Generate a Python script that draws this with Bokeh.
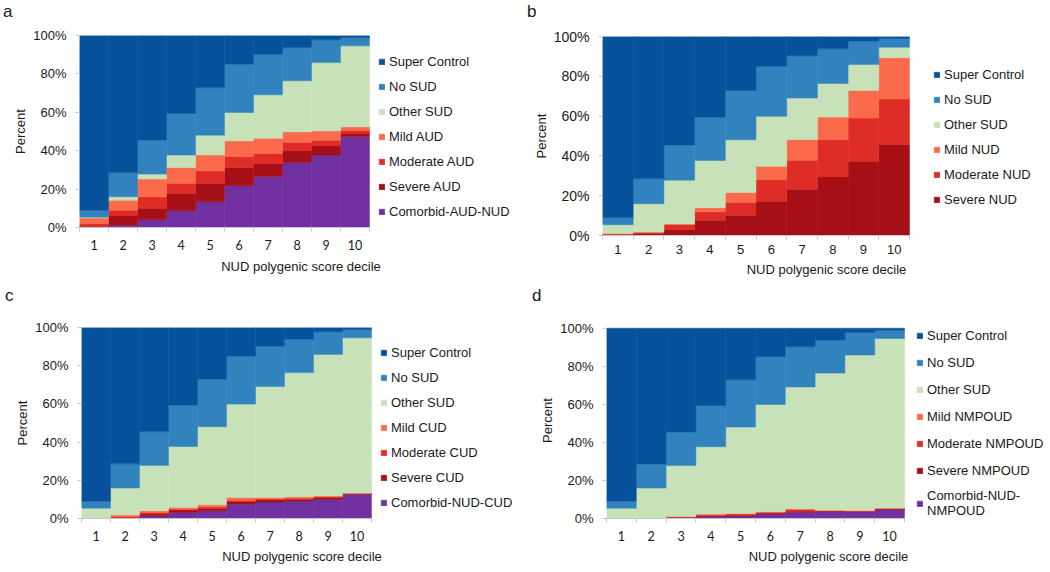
from bokeh.plotting import figure
from bokeh.layouts import row, column
from bokeh.models import Range1d, FixedTicker, Legend, LegendItem, ColumnDataSource, Div
from bokeh.embed import file_html
from bokeh.resources import INLINE

# ---------------- data ----------------
deciles = [1, 2, 3, 4, 5, 6, 7, 8, 9, 10]
x_tick_labels = ["1", "2", "3", "4", "5", "6", "7", "8", "9", "10"]
y_ticks = [0, 20, 40, 60, 80, 100]
y_tick_labels = ["0%", "20%", "40%", "60%", "80%", "100%"]

super_control = [91.0, 71.4, 54.5, 40.6, 27.1, 15.0, 9.7, 6.2, 2.2, 1.0]
no_sud = [3.6, 12.6, 17.7, 21.7, 24.8, 25.1, 21.2, 17.4, 11.9, 4.4]

# panel a (AUD)
other_a = [0.5, 1.8, 2.6, 6.4, 10.3, 14.8, 22.6, 26.6, 35.6, 42.2]
mild_a = [2.8, 5.2, 9.2, 8.2, 8.3, 8.1, 8.0, 5.4, 4.8, 1.7]
moderate_a = [1.4, 3.0, 6.0, 5.4, 6.6, 5.7, 5.2, 4.5, 3.0, 1.6]
severe_a = [0.7, 4.8, 6.0, 9.0, 9.5, 9.6, 6.7, 6.0, 4.7, 1.7]
comorbid_a = [0.0, 1.2, 4.0, 8.7, 13.4, 21.7, 26.6, 33.9, 37.8, 47.4]

# panel b (NUD)
other_b = [4.4, 14.2, 22.0, 23.7, 26.5, 25.1, 20.9, 16.9, 13.0, 5.3]
mild_b = [0.2, 0.3, 0.3, 2.1, 5.0, 6.7, 10.4, 11.3, 13.9, 20.7]
moderate_b = [0.3, 0.5, 2.5, 4.2, 6.4, 10.9, 14.7, 18.8, 21.7, 22.9]
severe_b = [0.5, 1.0, 3.0, 7.7, 10.2, 17.2, 23.1, 29.4, 37.3, 45.7]

# panel c (CUD)
other_c = [5.4, 14.2, 23.8, 31.9, 40.9, 48.9, 58.1, 65.1, 74.0, 81.3]
mild_c = [0.0, 0.8, 0.9, 0.9, 1.1, 1.4, 0.7, 0.7, 0.6, 0.2]
moderate_c = [0.0, 0.7, 0.8, 0.5, 0.9, 0.7, 0.5, 0.5, 0.3, 0.2]
severe_c = [0.0, 0.3, 0.9, 1.3, 1.2, 1.4, 1.1, 0.9, 0.9, 0.2]
comorbid_c = [0.0, 0.0, 1.4, 3.1, 4.0, 7.5, 8.7, 9.2, 10.1, 12.7]

# panel d (NMPOUD)
other_d = [5.4, 16.0, 26.8, 35.4, 45.5, 56.3, 64.0, 72.0, 81.7, 89.1]
mild_d = [0.0, 0.0, 0.1, 0.3, 0.3, 0.3, 0.4, 0.3, 0.2, 0.2]
moderate_d = [0.0, 0.0, 0.4, 0.6, 0.6, 0.6, 0.9, 0.2, 0.3, 0.3]
severe_d = [0.0, 0.0, 0.2, 0.4, 0.4, 0.4, 0.5, 0.2, 0.2, 0.3]
comorbid_d = [0.0, 0.0, 0.3, 1.0, 1.3, 2.3, 3.3, 3.7, 3.5, 4.7]

C_SUPER = "#08519c"
C_NOSUD = "#3182bd"
C_OTHER = "#c7e1b9"
C_MILD = "#fb6a4a"
C_MOD = "#de2d26"
C_SEV = "#a50f15"
C_COMOR = "#7030a0"

FONT = "Liberation Sans"
AXIS_GRAY = "#c8c8c8"
TXT = "#1a1a1a"


def make_panel(layers, width, height, bl, bt, bb, frame_w, y_top,
               leg_dx, leg_y, leg_spacing, tick_font, tick_size, ytick_size, s1, s2):
    # frame covers the bar area plus the legend area to its right
    extra_units = (width - bl - frame_w) * 10.0 / frame_w
    p = figure(width=width, height=height,
               x_range=Range1d(0.5, 10.5 + extra_units), y_range=Range1d(0, y_top),
               output_backend="svg", toolbar_location=None,
               min_border_left=bl, min_border_right=0,
               min_border_top=bt, min_border_bottom=bb)
    p.outline_line_color = None
    p.xgrid.visible = False
    p.ygrid.visible = False

    data = {"decile": deciles}
    keys = []
    for i, (name, vals, color) in enumerate(layers):
        data[f"s{i}"] = vals
        keys.append(f"s{i}")
    src = ColumnDataSource(data)
    rs = p.vbar_stack(keys, x="decile", width=1.0, source=src,
                      fill_color=[c for _, _, c in layers],
                      line_color=[c for _, _, c in layers], line_width=0.5)

    items = [LegendItem(label=name, renderers=[r])
             for (name, _, _), r in zip(layers, rs)][::-1]
    legend = Legend(items=items, location=(frame_w + leg_dx, leg_y))
    legend.glyph_width = 7
    legend.glyph_height = 7
    legend.label_standoff = 4
    legend.label_height = 18
    legend.spacing = leg_spacing
    legend.padding = 0
    legend.margin = 0
    legend.border_line_color = None
    legend.background_fill_alpha = 0
    legend.label_text_font = FONT
    legend.label_text_font_size = "13px"
    legend.label_text_color = TXT
    p.add_layout(legend, "center")

    # x axis
    xa = p.xaxis[0]
    minor = [d - 0.5 for d in deciles] + [deciles[-1] + 0.5]
    xa.bounds = (deciles[0] - 0.5, deciles[-1] + 0.5)
    xa.ticker = FixedTicker(ticks=deciles, minor_ticks=minor)
    xa.major_label_overrides = {d: t for d, t in zip(deciles, x_tick_labels)}
    xa.major_tick_line_color = None
    xa.major_tick_out = 0
    xa.major_tick_in = 0
    xa.minor_tick_line_color = AXIS_GRAY
    xa.minor_tick_out = 4
    xa.minor_tick_in = 0
    xa.axis_line_color = AXIS_GRAY
    xa.major_label_standoff = s1
    xa.major_label_text_font = tick_font
    xa.major_label_text_font_size = tick_size
    xa.major_label_text_color = TXT
    xa.axis_label = "NUD polygenic score decile"
    xa.axis_label_text_font = FONT
    xa.axis_label_text_font_size = "13px"
    xa.axis_label_text_font_style = "normal"
    xa.axis_label_text_color = TXT
    xa.axis_label_standoff = s2

    # y axis
    ya = p.yaxis[0]
    ya.bounds = (0, 100)
    ya.ticker = FixedTicker(ticks=y_ticks)
    ya.major_label_overrides = {t: l for t, l in zip(y_ticks, y_tick_labels)}
    ya.axis_line_color = None
    ya.major_tick_line_color = AXIS_GRAY
    ya.minor_tick_line_color = None
    ya.major_tick_out = 4
    ya.major_tick_in = 0
    ya.major_label_standoff = 9
    ya.major_label_text_font = FONT
    ya.major_label_text_font_size = ytick_size
    ya.major_label_text_color = TXT
    ya.axis_label = "Percent"
    ya.axis_label_text_font = FONT
    ya.axis_label_text_font_size = "13px"
    ya.axis_label_text_font_style = "normal"
    ya.axis_label_text_color = TXT
    ya.axis_label_standoff = 2
    return p


def letter_div(letter, width, pad):
    return Div(text=letter, width=width, height=24, margin=0,
               styles={"font-family": FONT, "font-size": "17px", "color": TXT,
                       "line-height": "23px", "padding-left": f"{pad}px"})


layers_a = [("Comorbid-AUD-NUD", comorbid_a, C_COMOR), ("Severe AUD", severe_a, C_SEV),
            ("Moderate AUD", moderate_a, C_MOD), ("Mild AUD", mild_a, C_MILD),
            ("Other SUD", other_a, C_OTHER), ("No SUD", no_sud, C_NOSUD),
            ("Super Control", super_control, C_SUPER)]
layers_b = [("Severe NUD", severe_b, C_SEV), ("Moderate NUD", moderate_b, C_MOD),
            ("Mild NUD", mild_b, C_MILD), ("Other SUD", other_b, C_OTHER),
            ("No SUD", no_sud, C_NOSUD), ("Super Control", super_control, C_SUPER)]
layers_c = [("Comorbid-NUD-CUD", comorbid_c, C_COMOR), ("Severe CUD", severe_c, C_SEV),
            ("Moderate CUD", moderate_c, C_MOD), ("Mild CUD", mild_c, C_MILD),
            ("Other SUD", other_c, C_OTHER), ("No SUD", no_sud, C_NOSUD),
            ("Super Control", super_control, C_SUPER)]
layers_d = [("Comorbid-NUD-\nNMPOUD", comorbid_d, C_COMOR), ("Severe NMPOUD", severe_d, C_SEV),
            ("Moderate NMPOUD", moderate_d, C_MOD), ("Mild NMPOUD", mild_d, C_MILD),
            ("Other SUD", other_d, C_OTHER), ("No SUD", no_sud, C_NOSUD),
            ("Super Control", super_control, C_SUPER)]

pa = make_panel(layers_a, 522, 260, 79, 11, 57, 290, 100, 9, 7, 7, "Lato", "12.5px", "13px", 8, 6)
pb = make_panel(layers_b, 528, 260, 80, 12, 49, 307, 100, 24, 27, 7, FONT, "13px", "14px", 5, 5)
pc = make_panel(layers_c, 522, 264, 81, 19, 54, 290, 100, 9, 7, 7, "Lato", "12.5px", "13px", 8, 5)
pd = make_panel(layers_d, 528, 264, 84, 14, 54, 298, 103, 12, 0, 9, "Lato", "12.5px", "13px", 8, 5)

layout = column(
    row(column(letter_div("a", 522, 3), pa), column(letter_div("b", 528, 5), pb)),
    row(column(letter_div("c", 522, 5), pc), column(letter_div("d", 528, 10), pd)),
)

with open("out.html", "w") as f:
    f.write(file_html(layout, INLINE))
